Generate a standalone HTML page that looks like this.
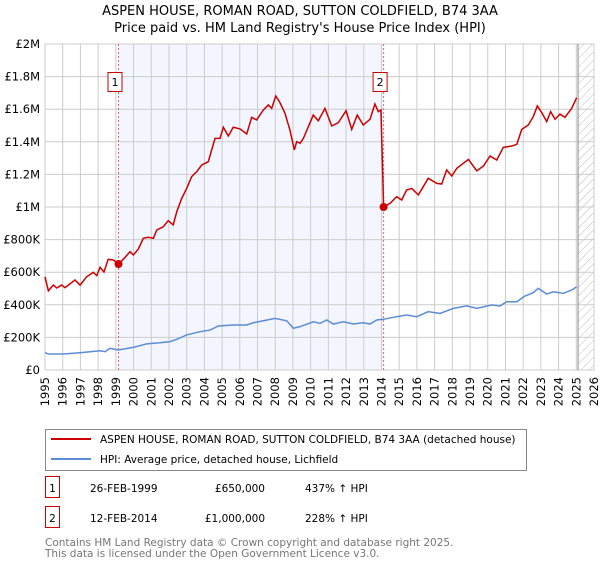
<!DOCTYPE html>
<html><head><meta charset="utf-8"><style>
body{margin:0;background:#fff;font-family:"DejaVu Sans","Liberation Sans",sans-serif;}
svg text{font-family:"DejaVu Sans","Liberation Sans",sans-serif;}
</style></head><body>
<svg id="chart" width="600" height="560" xmlns="http://www.w3.org/2000/svg">
<defs><pattern id="hatch" width="6" height="6" patternUnits="userSpaceOnUse" patternTransform="rotate(45)"><line x1="0" y1="0" x2="0" y2="6" stroke="#bbb" stroke-width="1"/></pattern></defs>
<text x="300" y="15" text-anchor="middle" font-size="13">ASPEN HOUSE, ROMAN ROAD, SUTTON COLDFIELD, B74 3AA</text>
<text x="300" y="32" text-anchor="middle" font-size="13">Price paid vs. HM Land Registry's House Price Index (HPI)</text>
<g id="plot"></g>
<rect x="45.5" y="429.5" width="481" height="41" fill="#fff" stroke="#888"/>
<line x1="51" y1="439" x2="91" y2="439" stroke="#cc0000" stroke-width="2"/>
<text x="100" y="443" font-size="10.5">ASPEN HOUSE, ROMAN ROAD, SUTTON COLDFIELD, B74 3AA (detached house)</text>
<line x1="51" y1="459" x2="91" y2="459" stroke="#5b8dd6" stroke-width="2"/>
<text x="100" y="463" font-size="10.5">HPI: Average price, detached house, Lichfield</text>
<rect x="45.5" y="476.5" width="14" height="21" fill="#fff" stroke="#cc0000"/>
<text x="52.5" y="492" text-anchor="middle" font-size="10.5">1</text>
<text x="90" y="492" font-size="10.5">26-FEB-1999</text>
<text x="265" y="492" font-size="10.5" text-anchor="end">£650,000</text>
<text x="305" y="492" font-size="10.5">437% ↑ HPI</text>
<rect x="45.5" y="506.5" width="14" height="21" fill="#fff" stroke="#cc0000"/>
<text x="52.5" y="522" text-anchor="middle" font-size="10.5">2</text>
<text x="90" y="522" font-size="10.5">12-FEB-2014</text>
<text x="265" y="522" font-size="10.5" text-anchor="end">£1,000,000</text>
<text x="305" y="522" font-size="10.5">228% ↑ HPI</text>
<text x="45" y="546" font-size="10.5" fill="#777">Contains HM Land Registry data © Crown copyright and database right 2025.</text>
<text x="45" y="557" font-size="10.5" fill="#777">This data is licensed under the Open Government Licence v3.0.</text>
</svg>
<script>
const yTicks=[0,200000,400000,600000,800000,1000000,1200000,1400000,1600000,1800000,2000000];
const yTickLabels=["£0","£200K","£400K","£600K","£800K","£1M","£1.2M","£1.4M","£1.6M","£1.8M","£2M"];
const xYears=[1995,1996,1997,1998,1999,2000,2001,2002,2003,2004,2005,2006,2007,2008,2009,2010,2011,2012,2013,2014,2015,2016,2017,2018,2019,2020,2021,2022,2023,2024,2025,2026];
const saleDates=[1999.15,2014.12];
const salePrices=[650000,1000000];
const saleLabels=["1","2"];
const propYears=[1995.0,1995.19,1995.47,1995.66,1995.94,1996.13,1996.69,1996.98,1997.35,1997.73,1997.92,1998.11,1998.33,1998.57,1998.86,1999.15,1999.42,1999.80,1999.99,2000.27,2000.55,2000.83,2001.12,2001.31,2001.68,2001.96,2002.24,2002.44,2002.72,2003.00,2003.28,2003.57,2003.85,2004.22,2004.60,2004.88,2005.07,2005.35,2005.63,2006.01,2006.39,2006.67,2006.95,2007.33,2007.61,2007.80,2008.03,2008.27,2008.55,2008.83,2009.08,2009.21,2009.40,2009.59,2010.15,2010.43,2010.81,2011.19,2011.56,2012.00,2012.32,2012.63,2012.97,2013.35,2013.63,2013.82,2013.97,2014.12,2014.48,2014.86,2015.14,2015.42,2015.71,2016.08,2016.64,2017.12,2017.40,2017.68,2017.97,2018.25,2018.62,2018.91,2019.38,2019.76,2020.13,2020.51,2020.88,2021.35,2021.64,2021.92,2022.29,2022.57,2022.80,2023.05,2023.33,2023.55,2023.80,2024.08,2024.36,2024.74,2025.02];
const propValues=[572,486,521,503,521,505,552,521,572,599,579,630,601,679,675,650,679,726,706,742,808,814,808,859,879,916,890,971,1053,1114,1186,1217,1258,1278,1421,1421,1489,1436,1489,1479,1448,1550,1534,1595,1626,1605,1681,1640,1575,1472,1350,1401,1391,1421,1564,1529,1605,1497,1517,1591,1476,1564,1503,1538,1632,1585,1595,1000,1022,1063,1043,1104,1114,1074,1176,1145,1141,1227,1190,1237,1268,1292,1222,1252,1313,1288,1366,1374,1384,1476,1503,1554,1620,1579,1524,1585,1538,1570,1550,1605,1671];
const hpiYears=[1995.0,1995.19,1996.03,1996.98,1998.11,1998.39,1998.67,1999.14,1999.99,2000.74,2001.49,2002.06,2002.44,2003.00,2003.75,2004.32,2004.79,2005.63,2006.39,2006.76,2007.33,2007.99,2008.65,2009.02,2009.40,2010.15,2010.53,2010.91,2011.28,2011.84,2012.41,2012.97,2013.35,2013.73,2014.10,2014.86,2015.42,2015.99,2016.64,2017.30,2018.06,2018.81,2019.38,2020.22,2020.69,2021.07,2021.64,2022.10,2022.57,2022.85,2023.33,2023.70,2024.26,2024.74,2025.02];
const hpiValues=[106,98,98,106,118,112,133,123,139,160,167,174,188,215,235,245,270,276,276,290,302,317,302,256,266,296,286,307,282,296,282,290,282,307,311,327,337,327,358,347,378,393,378,399,393,419,419,454,474,501,466,480,470,491,511];
const dataEnd=2025.1;

const L=45,R=594,T=44,B=370,X0=1995,X1=2026;
const xs=y=>L+(y-X0)/(X1-X0)*(R-L);
const ys=v=>B-v/2000000*(B-T);
const NS="http://www.w3.org/2000/svg";
const g=document.getElementById('plot');
function mk(tag,attrs){const e=document.createElementNS(NS,tag);for(const k in attrs)e.setAttribute(k,attrs[k]);g.appendChild(e);return e;}
let e;
e=mk('rect',{x:xs(saleDates[0]),y:T,width:xs(saleDates[1])-xs(saleDates[0]),height:B-T,fill:'#f3f6fe'});


e=mk('rect',{x:xs(dataEnd),y:T,width:R-xs(dataEnd),height:B-T,fill:'url(#hatch)'});


xYears.forEach(yr=>{
 e=mk('line',{x1:xs(yr),x2:xs(yr),y1:T,y2:B,stroke:'#ccc','stroke-width':1});
 
 
 const t=mk('text',{x:0,y:0,'font-size':11.5,'text-anchor':'end',transform:`translate(${xs(yr)+4},${B+7}) rotate(-90)`});
 t.textContent=yr;
 
 
});
yTicks.forEach((v,i)=>{
 e=mk('line',{x1:L,x2:R,y1:ys(v),y2:ys(v),stroke:'#ccc','stroke-width':1});
 
 
 const t=mk('text',{x:L-5,y:ys(v)+4,'font-size':11.5,'text-anchor':'end'});
 t.textContent=yTickLabels[i];
 
 
});
e=mk('line',{x1:xs(dataEnd),x2:xs(dataEnd),y1:T,y2:B,stroke:'#888','stroke-width':1});


saleDates.forEach((d,i)=>{
 e=mk('line',{x1:xs(d),x2:xs(d),y1:T,y2:B,stroke:'#e06666','stroke-width':1,'stroke-dasharray':'2,2'});
 
 
 e=mk('rect',{x:xs(d)-10.5,y:72.5,width:14,height:19,fill:'#fff',stroke:'#cc0000'});
 
 
 const t=mk('text',{x:xs(d)-3.5,y:86,'font-size':11,'text-anchor':'middle'});
 t.textContent=saleLabels[i];
 
 
});
e=mk('polyline',{points:hpiYears.map((y,i)=>xs(y)+','+ys(hpiValues[i]*1000)).join(' '),fill:'none',stroke:'#5b8dd6','stroke-width':1.5});


e=mk('polyline',{points:propYears.map((y,i)=>xs(y)+','+ys(propValues[i]*1000)).join(' '),fill:'none',stroke:'#cc0000','stroke-width':1.5});


saleDates.forEach((d,i)=>{
 e=mk('circle',{cx:xs(d),cy:ys(salePrices[i]),r:4,fill:'#cc0000'});
 
 
});
</script>
</body></html>
